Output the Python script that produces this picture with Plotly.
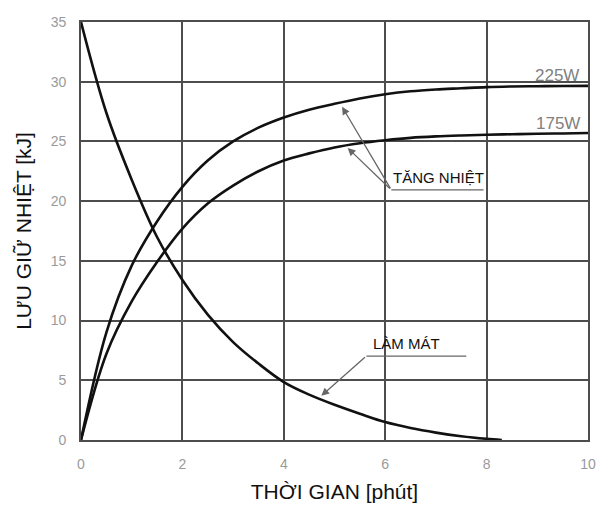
import plotly.graph_objects as go

# Data
time_225w = [0, 0.5, 1.0, 1.5, 2.0, 2.5, 3.0, 3.5, 4.0, 4.5, 5.0, 5.5, 6.0, 6.5, 7.0, 7.5, 8.0, 8.5, 9.0, 9.5, 10.0]
heat_225w = [0, 9.0, 14.6, 18.3, 21.2, 23.4, 25.0, 26.15, 27.0, 27.65, 28.15, 28.6, 28.95, 29.2, 29.35, 29.45, 29.55, 29.6, 29.62, 29.64, 29.65]

time_175w = [0, 0.5, 1.0, 1.5, 2.0, 2.5, 3.0, 3.5, 4.0, 4.5, 5.0, 5.5, 6.0, 6.5, 7.0, 7.5, 8.0, 8.5, 9.0, 9.5, 10.0]
heat_175w = [0, 7.2, 11.6, 14.9, 17.7, 19.8, 21.3, 22.5, 23.4, 24.0, 24.5, 24.85, 25.1, 25.3, 25.42, 25.5, 25.56, 25.6, 25.64, 25.67, 25.7]

time_cool = [0, 0.5, 1.0, 1.5, 2.0, 2.5, 3.0, 3.5, 4.0, 4.5, 5.0, 5.5, 6.0, 6.5, 7.0, 7.5, 8.0, 8.3]
heat_cool = [35, 27.4, 21.8, 17.0, 13.4, 10.5, 8.2, 6.4, 4.85, 3.8, 2.95, 2.2, 1.5, 1.0, 0.62, 0.32, 0.1, 0.0]

x_ticks = [0, 2, 4, 6, 8, 10]
y_ticks = [0, 5, 10, 15, 20, 25, 30, 35]

x_title = "THỜI GIAN [phút]"
y_title = "LƯU GIỮ NHIỆT [kJ]"

fig = go.Figure()
line_style = dict(color="#111111", width=2.6, shape="spline", smoothing=1.0)
for xs, ys, name in [(time_225w, heat_225w, "225W"),
                     (time_175w, heat_175w, "175W"),
                     (time_cool, heat_cool, "LÀM MÁT")]:
    fig.add_trace(go.Scatter(x=xs, y=ys, mode="lines", line=line_style,
                             name=name, showlegend=False, hoverinfo="skip"))

grid_color = "#4d4d4d"
tick_font = dict(family="Liberation Sans, Arial, sans-serif", size=14, color="#9a9a9a")
title_font = dict(family="Liberation Sans, Arial, sans-serif", size=21, color="#111111")

fig.update_xaxes(range=[0, 10], tickvals=x_ticks, showgrid=True, gridcolor=grid_color,
                 gridwidth=1.6, zeroline=False, showline=True, linecolor=grid_color,
                 linewidth=1.6, mirror=True, ticks="", tickfont=tick_font,
                 ticklabelstandoff=10, automargin=False,
                 title=dict(text=x_title, font=title_font, standoff=14))
fig.update_yaxes(range=[0, 35], tickvals=y_ticks, showgrid=True, gridcolor=grid_color,
                 gridwidth=1.6, zeroline=False, showline=True, linecolor=grid_color,
                 linewidth=1.6, mirror=True, ticks="", tickfont=tick_font,
                 ticklabelstandoff=10, automargin=False,
                 title=dict(text=y_title, font=title_font, standoff=13))

ann_font = dict(family="Liberation Sans, Arial, sans-serif", size=15, color="#111111")
label_font = dict(family="Liberation Sans, Arial, sans-serif", size=17, color="#808080")
arrow_color = "#666666"

annotations = [
    dict(x=9.38, y=30.5, text="225W", showarrow=False, font=label_font),
    dict(x=9.40, y=26.5, text="175W", showarrow=False, font=label_font),
    dict(x=7.06, y=21.95, text="TĂNG NHIỆT", showarrow=False, font=ann_font),
    dict(x=6.42, y=8.1, text="LÀM MÁT", showarrow=False, font=ann_font),
    # arrows (head on curve, tail at leader line)
    dict(x=5.15, y=27.9, ax=6.12, ay=20.94, axref="x", ayref="y", text="",
         showarrow=True, arrowhead=2, arrowsize=1.2, arrowwidth=1.3, arrowcolor=arrow_color),
    dict(x=5.26, y=24.45, ax=6.12, ay=20.94, axref="x", ayref="y", text="",
         showarrow=True, arrowhead=2, arrowsize=1.2, arrowwidth=1.3, arrowcolor=arrow_color),
    dict(x=4.74, y=3.7, ax=5.63, ay=7.03, axref="x", ayref="y", text="",
         showarrow=True, arrowhead=2, arrowsize=1.2, arrowwidth=1.3, arrowcolor=arrow_color),
]

shapes = [
    dict(type="line", x0=6.12, x1=7.94, y0=20.94, y1=20.94, xref="x", yref="y",
         line=dict(color=arrow_color, width=1.3)),
    dict(type="line", x0=5.63, x1=7.60, y0=7.03, y1=7.03, xref="x", yref="y",
         line=dict(color=arrow_color, width=1.3)),
]

fig.update_layout(width=603, height=505, margin=dict(l=81, r=15, t=22, b=65),
                  paper_bgcolor="white", plot_bgcolor="white",
                  annotations=annotations, shapes=shapes, showlegend=False)

fig.write_html("out.html")
